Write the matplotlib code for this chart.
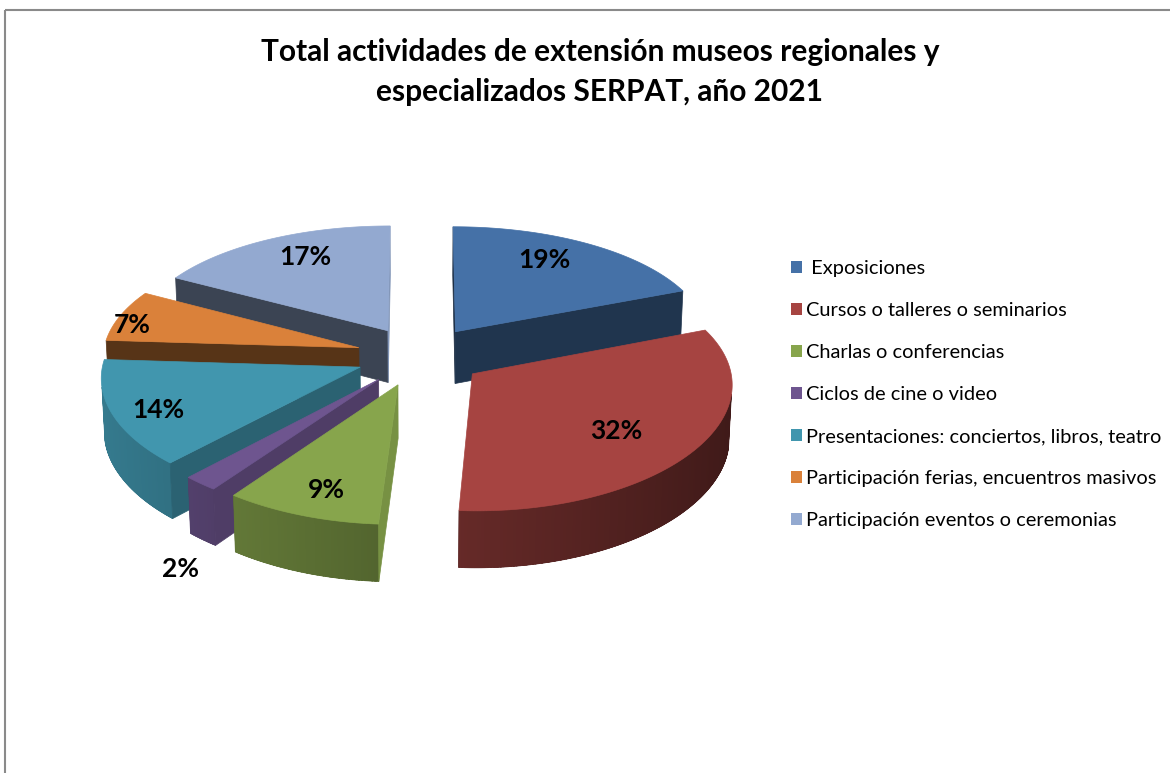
import numpy as np
import matplotlib.pyplot as plt
from matplotlib.patches import Polygon, Rectangle, Patch
from matplotlib.colors import to_rgb

# data
categories = [" Exposiciones", "Cursos o talleres o seminarios", "Charlas o conferencias",
              "Ciclos de cine o video", "Presentaciones: conciertos, libros, teatro",
              "Participación ferias, encuentros masivos", "Participación eventos o ceremonias"]
shares = [19, 32, 9, 2, 14, 7, 17]
colors = ["#4571A7", "#A64441", "#87A54C", "#6E558F", "#4196AE", "#DA813A", "#93A9D0"]
title = "Total actividades de extensión museos regionales y\nespecializados SERPAT, año 2021"

# layout of the 3d pie (pixels)
CX, CY = 420, 356
SCALE = 256
PHI = np.radians(27.9)
DIST = 9.0      # vertical perspective
DISTX = 12.0    # horizontal perspective
HEIGHT = 0.235
EXPLODE = 0.25
label_r = [0.66, 0.66, 0.76, 1.12, 0.82, 0.95, 0.68]
label_lift = [0.055, -0.03, -0.035, -0.30, -0.02, -0.035, 0.045]
CAM = np.array([0.0, -DIST * np.cos(PHI), DIST * np.sin(PHI)])


def project(u, v, z):
    yc = v * np.sin(PHI) + z * np.cos(PHI)
    dv = v * np.cos(PHI) - z * np.sin(PHI)
    return CX + SCALE * u * DISTX / (DISTX + dv), CY - SCALE * yc * DIST / (DIST + dv)


def shade(c, f):
    return tuple(np.clip(np.array(to_rgb(c)) * f, 0, 1))


def facing(p, n):
    return np.dot(CAM - p, n) > 0


def add_poly(ax, pts, col, **kw):
    poly = Polygon(pts, closed=True, facecolor=col, edgecolor=col, lw=0.5, **kw)
    ax.add_patch(poly)
    return poly


fig = plt.figure(figsize=(11.7, 7.73), dpi=100)
ax = fig.add_axes([0, 0, 1, 1])
ax.set_xlim(0, 1170)
ax.set_ylim(773, 0)
ax.axis("off")

# chart border
ax.add_patch(Rectangle((5, 10), 1200, 800, facecolor="none", edgecolor="#8A8A8A", lw=1.5))

fracs = np.array(shares) / np.sum(shares)
ends = np.radians(90 - 360 * np.cumsum(fracs))
starts = np.concatenate([[np.radians(90)], ends[:-1]])

slices = []
for i in range(len(shares)):
    hi, lo = starts[i], ends[i]
    mid = (hi + lo) / 2
    ou, ov = EXPLODE * np.cos(mid), EXPLODE * np.sin(mid)
    slices.append((i, lo, hi, mid, ou, ov))


def wall_shade(t):
    return 0.6 - 0.22 * np.cos(t)


# back to front
for i, lo, hi, mid, ou, ov in sorted(slices, key=lambda s: -np.sin(s[3])):
    col = colors[i]
    ts = np.linspace(lo, hi, max(8, int(np.degrees(hi - lo) * 1.5)))
    # outer wall: visible part as one outline, gradient strips clipped to it
    vis = [t for t in ts if facing(np.array([ou + np.cos(t), ov + np.sin(t), -HEIGHT / 2]),
                                   np.array([np.cos(t), np.sin(t), 0]))]
    if len(vis) > 1:
        outline = [project(ou + np.cos(t), ov + np.sin(t), 0) for t in vis] + \
                  [project(ou + np.cos(t), ov + np.sin(t), -HEIGHT) for t in vis[::-1]]
        base = add_poly(ax, outline, shade(col, wall_shade(np.mean(vis))))
        for a, b in zip(vis[:-1], vis[1:]):
            f = wall_shade((a + b) / 2)
            pts = [project(ou + np.cos(a), ov + np.sin(a), 0.05), project(ou + np.cos(b), ov + np.sin(b), 0.05),
                   project(ou + np.cos(b), ov + np.sin(b), -HEIGHT - 0.05),
                   project(ou + np.cos(a), ov + np.sin(a), -HEIGHT - 0.05)]
            strip = Polygon(pts, closed=True, facecolor=shade(col, f), edgecolor=shade(col, f),
                            lw=1.0, antialiased=False)
            ax.add_patch(strip)
            strip.set_clip_path(base)
    # cut faces
    for ang, n in [(hi, np.array([-np.sin(hi), np.cos(hi), 0])), (lo, np.array([np.sin(lo), -np.cos(lo), 0]))]:
        p = np.array([ou + 0.5 * np.cos(ang), ov + 0.5 * np.sin(ang), -HEIGHT / 2])
        if not facing(p, n):
            continue
        f = 0.4 + 0.48 * max(0, n[0]) ** 2
        pts = [project(ou, ov, 0), project(ou + np.cos(ang), ov + np.sin(ang), 0),
               project(ou + np.cos(ang), ov + np.sin(ang), -HEIGHT), project(ou, ov, -HEIGHT)]
        add_poly(ax, pts, shade(col, f))
    # top face
    pts = [project(ou, ov, 0)] + [project(ou + np.cos(t), ov + np.sin(t), 0) for t in ts]
    add_poly(ax, pts, col)

# percentage labels
for i, lo, hi, mid, ou, ov in slices:
    r = label_r[i]
    x, y = project(ou + r * np.cos(mid), ov + r * np.sin(mid), label_lift[i])
    ax.text(x, y, f"{shares[i]}%", ha="center", va="center", fontsize=19,
            fontweight="bold", family="Lato", color="black")

fig.text(600 / 1170, 1 - 72 / 773, title, ha="center", va="center", fontsize=21.5,
         fontweight="bold", family="Lato", linespacing=1.5)

handles = [Patch(facecolor=c, edgecolor="none") for c in colors]
fig.legend(handles, categories, loc="upper left", bbox_to_anchor=(773 / 1170, 1 - 242 / 773),
           frameon=False, prop={"family": "Lato", "size": 14.4}, handlelength=0.55, handleheight=0.55,
           handletextpad=0.2, labelspacing=1.25)

fig.savefig("out.png", dpi=100)
